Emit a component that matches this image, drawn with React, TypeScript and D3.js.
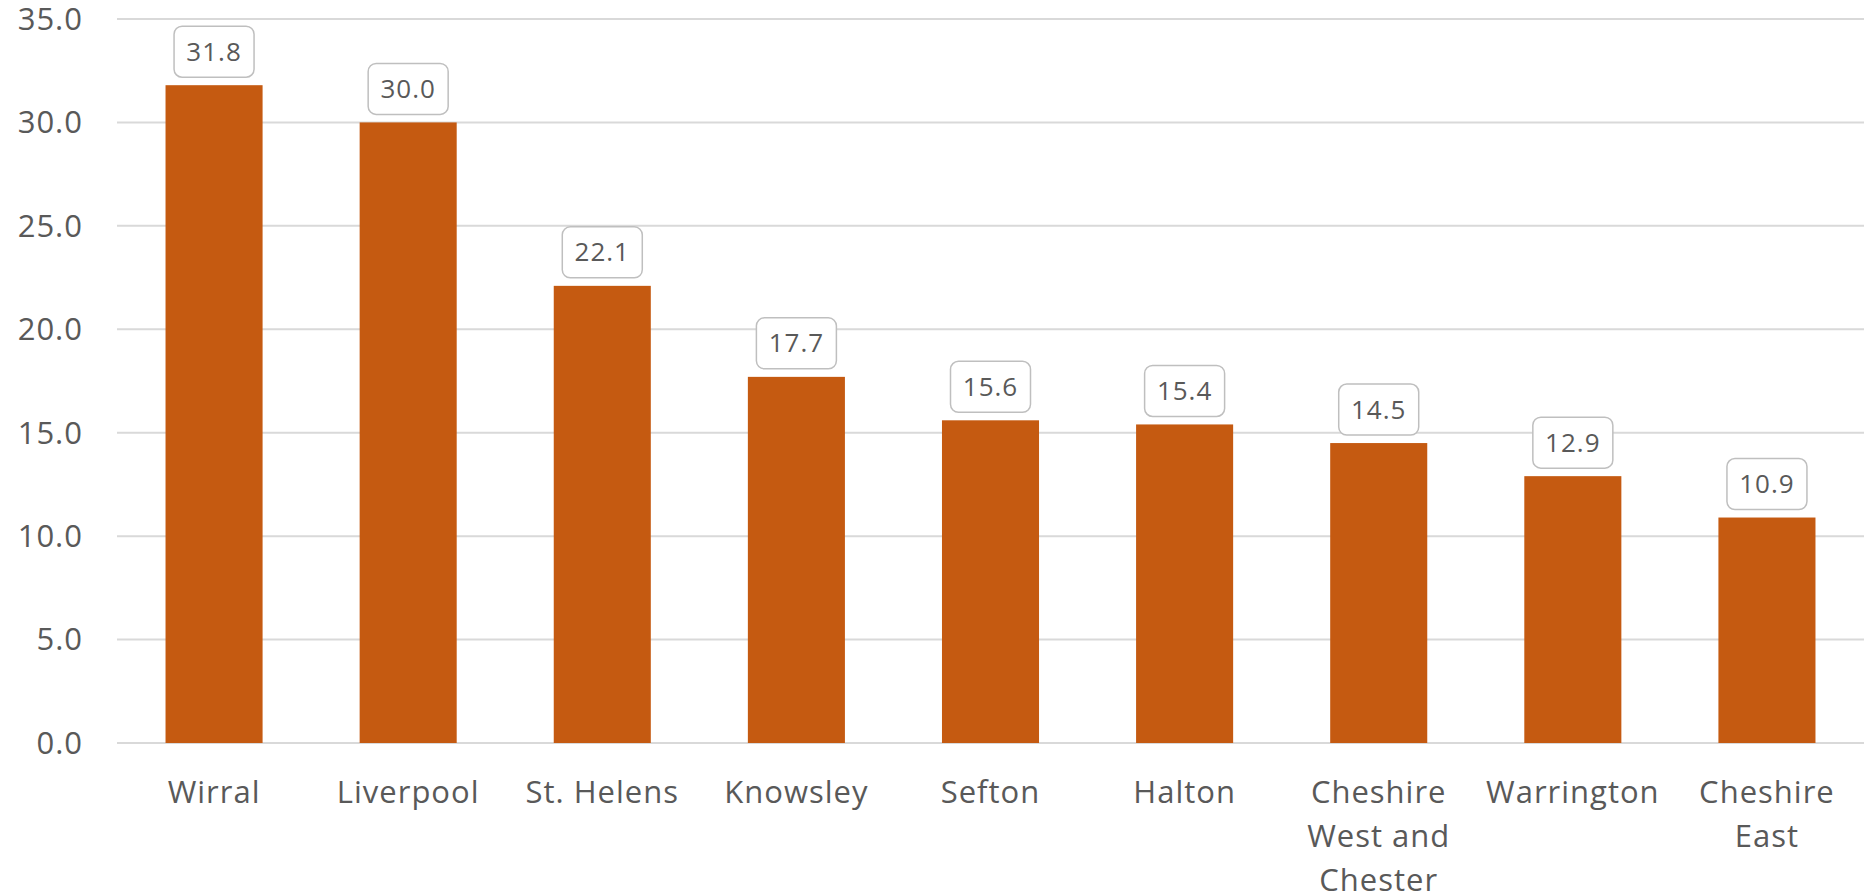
import React from "react";
import * as d3 from "d3";

const categories: string[][] = [
  ["Wirral"],
  ["Liverpool"],
  ["St. Helens"],
  ["Knowsley"],
  ["Sefton"],
  ["Halton"],
  ["Cheshire", "West and", "Chester"],
  ["Warrington"],
  ["Cheshire", "East"],
];
const values: number[] = [31.8, 30.0, 22.1, 17.7, 15.6, 15.4, 14.5, 12.9, 10.9];
const yTicks: number[] = [0, 5, 10, 15, 20, 25, 30, 35];

const W = 1866;
const H = 896;
const M = { left: 117, right: 2, top: 19, bottom: 153 };
const FONT = "'Open Sans', Lato, sans-serif";
const TEXT = "#595959";

export default function App() {
  const x = d3
    .scaleBand<number>()
    .domain(values.map((_, i) => i))
    .range([M.left, W - M.right])
    .paddingInner(0.5)
    .paddingOuter(0.25);
  const y = d3.scaleLinear().domain([0, 35]).range([H - M.bottom, M.top]);
  const fmt = d3.format(".1f");
  const boxW = 80;
  const boxH = 51;

  return (
    <div style={{ position: "absolute", left: 0, top: 0 }}>
      <svg width={W} height={H} style={{ display: "block", background: "#fff" }}>
        {yTicks.map((t) => (
          <g key={t}>
            <line
              x1={M.left}
              x2={W - M.right}
              y1={y(t)}
              y2={y(t)}
              stroke="#d9d9d9"
              strokeWidth={2}
            />
            <text
              x={83}
              y={y(t)}
              dy="0.35em"
              textAnchor="end"
              fontFamily={FONT}
              fontSize={31}
              letterSpacing={1}
              fill={TEXT}
            >
              {fmt(t)}
            </text>
          </g>
        ))}
        {values.map((v, i) => {
          const bx = x(i)!;
          const bw = x.bandwidth();
          const top = y(v);
          const cx = bx + bw / 2;
          return (
            <g key={i}>
              <rect x={bx} y={top} width={bw} height={y(0) - top} fill="#C55A11" />
              <rect
                x={cx - boxW / 2}
                y={top - 8 - boxH}
                width={boxW}
                height={boxH}
                rx={8}
                ry={8}
                fill="#fff"
                stroke="#bfbfbf"
                strokeWidth={1.5}
              />
              <text
                x={cx}
                y={top - 8 - boxH / 2}
                dy="0.35em"
                textAnchor="middle"
                fontFamily={FONT}
                fontSize={26}
                letterSpacing={1}
                fill={TEXT}
              >
                {fmt(v)}
              </text>
              {categories[i].map((line, j) => (
                <text
                  key={j}
                  x={cx}
                  y={803 + j * 44}
                  textAnchor="middle"
                  fontFamily={FONT}
                  fontSize={31}
                  letterSpacing={1}
                  fill={TEXT}
                >
                  {line}
                </text>
              ))}
            </g>
          );
        })}
      </svg>
    </div>
  );
}
